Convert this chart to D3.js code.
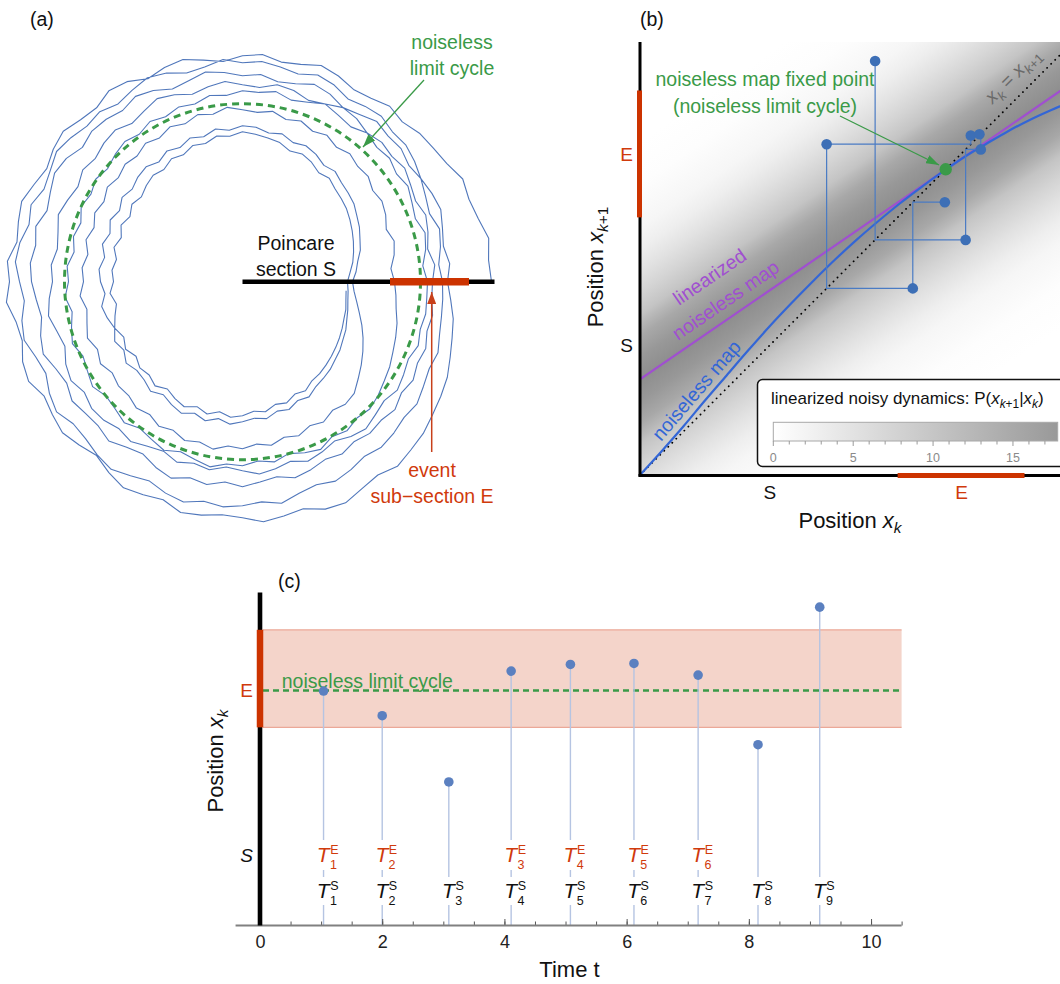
<!DOCTYPE html>
<html><head><meta charset="utf-8">
<script src="https://cdn.jsdelivr.net/npm/d3@7"></script>
<style>
body{margin:0;background:#fff;}
svg{display:block;font-family:"Liberation Sans",Arial,sans-serif;}
</style></head><body>
<svg id="fig" width="1060" height="984"></svg>
<script>
// ---------------- data ----------------
const crossingIndex = [1, 2, 3, 4, 5, 6, 7, 8, 9];
const crossingTimes = [1.04, 2.00, 3.09, 4.11, 5.08, 6.12, 7.17, 8.15, 9.16];
const crossingPositions = [0.704, 0.630, 0.431, 0.764, 0.784, 0.787, 0.752, 0.543, 0.956];
const eventRange = [0.595, 0.888];
const fixedPoint = 0.706;
const sLabelB = 0.30;
const sLabelC = 0.212;

// noiseless map
const mapX = [0, 0.05, 0.1, 0.15, 0.2, 0.25, 0.3, 0.35, 0.4, 0.45, 0.5, 0.55, 0.6, 0.65, 0.7, 0.75, 0.8, 0.85, 0.9, 0.95, 1.0];
const mapY = [0, 0.055, 0.112, 0.172, 0.230, 0.288, 0.344, 0.397, 0.448, 0.497, 0.543, 0.586, 0.627, 0.665, 0.701, 0.735, 0.765, 0.794, 0.820, 0.843, 0.864];
// linearized noiseless map
const linearMapX = [0, 1];
const linearMapY = [0.221, 0.907];
// density profile across the linearized map (vertical offset -> P)
const densityOffsets = [-0.55, -0.45, -0.35, -0.3, -0.25, -0.2, -0.15, -0.13, -0.1, -0.05, 0, 0.05, 0.1, 0.13, 0.15, 0.2, 0.25, 0.3, 0.35, 0.45, 0.55];
const densityValues  = [0, 0.35, 1.6, 3.0, 5.1, 7.5, 10.3, 12.4, 15.2, 18.0, 19.7, 18.0, 15.2, 12.4, 10.3, 7.5, 5.1, 3.0, 1.6, 0.35, 0];
const colorbarTicks = [0, 5, 10, 15];
const colorbarMax = 17.8;
const timeTicks = [0, 2, 4, 6, 8, 10];

// panel (a): noisy trajectory, radius per 5 degree step, one array per loop
const limitCycleRadius = 178;
const sectionRange = [0, 252];
const eventSubsection = [147.5, 226.5];
const loop1 = [249,247,250,244,241,243,236,233,231, 226,229,224,222,227,230,225,223,228, 226,221,225,230,228,224,231,233,227, 229,234,231,226,230,235,232,229,236, 233,237,230,228,234,236,229,232,235, 231,227,233,238,235,232,239,237,234, 236,241,238,235,242,244,239,236,241, 238,236,232,229,226,221,217,214,209];
const loop2 = [205,208,204,207,211,209,206,210,213, 212,216,214,211,217,220,215,218,221, 219,223,218,216,222,225,221,217,222, 220,224,227,222,219,225,221,226,228, 223,219,224,226,220,217,223,227,221, 222,226,229,224,220,225,228,223,226, 224,221,225,219,216,220,217,213,216, 214,211,213,209,206,208,204,202,201];
const loop3 = [200,197,201,204,199,202,206,203,207, 206,209,204,201,207,210,205,203,208, 206,210,213,208,205,211,214,209,212, 213,209,215,217,212,208,214,210,213, 211,207,204,209,212,206,203,208,205, 204,208,202,199,205,209,203,206,201, 205,201,198,203,200,196,199,195,198, 196,199,194,197,193,195,191,193,190];
const loop4 = [190,193,188,192,195,191,194,198,195, 197,194,199,201,196,193,198,200,195, 197,201,198,194,199,202,197,193,198, 196,192,195,190,193,196,191,188,192, 190,194,197,192,189,195,198,193,197, 196,192,195,190,187,192,188,191,186, 189,193,190,186,191,188,184,189,192, 188,185,189,186,183,187,184,186,185];
const loop5 = [185,181,186,189,184,187,191,188,192, 190,194,189,192,196,191,188,193,190, 191,187,189,184,186,182,185,180,183, 180,176,179,175,178,172,175,171,176, 174,178,173,177,181,176,179,183,178, 180,184,179,182,186,181,184,188,183, 184,180,183,178,182,185,179,182,178, 180,177,173,170,166,163,160,156,154];
const loop6 = [152,149,154,157,153,158,161,159,164, 163,167,164,169,166,171,168,173,170, 172,175,170,173,168,171,166,169,164, 166,162,165,160,163,158,162,157,161, 159,163,158,161,165,160,164,159,162, 161,165,162,167,164,169,166,170,165, 167,163,166,161,164,159,162,157,160, 158,151,145,139,133,127,121,116,112];
const loop7 = [110,114,117,122,125,129,132,136,138, 140,144,142,147,150,148,153,151,155, 156,152,155,150,153,148,151,146,150, 148,144,147,142,146,141,145,140,144, 142,138,143,140,136,141,137,142,138, 139,143,138,142,145,140,144,139,143, 140,137,139,134,136,131,133,128,126, 124,121,119,116,114,111,109,107,106];
const loop8 = [105,108,112,115,118,121,124,127,129, 131,135,133,138,141,139,144,146,148, 150,146,148,143,145,140,142,137,139, 136,132,135,130,134,129,133,128,131, 129,133,128,132,136,131,135,130,134, 132,136,131,135,138,133,137,132,136, 134,130,132,127,129,124,126,121,120, 118,116,114,112,110,108,107,105,104];
const trajectoryLoops = [loop1, loop2, loop3, loop4, loop5, loop6, loop7, loop8];

// ---------------- styles ----------------
const GREEN = "#3a9a48", ORANGE = "#cc3300", OTXT = "#d03a0c";
const svg = d3.select("#fig");
const defs = svg.append("defs");
function marker(id, color, w, h) {
  defs.append("marker").attr("id", id).attr("viewBox", `0 0 ${w} ${h}`)
    .attr("refX", w).attr("refY", h / 2).attr("markerWidth", w).attr("markerHeight", h)
    .attr("markerUnits", "userSpaceOnUse").attr("orient", "auto")
    .append("path").attr("d", `M0,0L${w},${h / 2}L0,${h}Z`).attr("fill", color);
}
marker("arrG", GREEN, 13, 9);
marker("arrR", "#c8401a", 12, 9);

function label(g, x, y, str, opt = {}) {
  return g.append("text").attr("x", x).attr("y", y).text(str)
    .attr("font-size", opt.size || 19.5).attr("fill", opt.fill || "#111")
    .attr("text-anchor", opt.anchor || "start")
    .attr("font-style", opt.italic ? "italic" : null);
}
// rich text: parts [{t, it, small, dy, dx, x, size}]
function rich(g, x, y, parts, size, fill, anchor, transform) {
  const t = g.append("text").attr("x", x).attr("y", y).attr("font-size", size)
    .attr("fill", fill).attr("text-anchor", anchor || "start");
  if (transform) t.attr("transform", transform);
  parts.forEach(p => {
    const s = t.append("tspan").text(p.t);
    if (p.it) s.attr("font-style", "italic");
    if (p.small) s.attr("font-size", size * 0.7);
    if (p.size) s.attr("font-size", p.size);
    if (p.dy) s.attr("dy", p.dy);
    if (p.dx) s.attr("dx", p.dx);
    if (p.x !== undefined) s.attr("x", p.x);
  });
  return t;
}

// ================= panel (a) =================
label(svg, 30, 26, "(a)");
const cxA = 242.5, cyA = 281.7;
const gA = svg.append("g").attr("transform", `translate(${cxA},${cyA})`);
const rA = d3.scaleLinear().domain([0, limitCycleRadius]).range([0, 178]);
const stepDeg = 5;
const trajPts = [];
trajectoryLoops.forEach((loop, li) => loop.forEach((r, k) => {
  const th = (li * loop.length + k) * stepDeg * Math.PI / 180;
  trajPts.push({ a: Math.PI / 2 - th, r: r });
}));
gA.append("path")
  .attr("d", d3.lineRadial().angle(d => d.a).radius(d => rA(d.r))(trajPts))
  .attr("fill", "none").attr("stroke", "#5077bb").attr("stroke-width", 1.1)
  .attr("stroke-linejoin", "round");
gA.append("circle").attr("r", rA(limitCycleRadius)).attr("fill", "none")
  .attr("stroke", GREEN).attr("stroke-width", 3).attr("stroke-dasharray", "7,5");
gA.append("line").attr("x1", rA(sectionRange[0])).attr("x2", rA(sectionRange[1]))
  .attr("y1", 0).attr("y2", 0).attr("stroke", "#000").attr("stroke-width", 4.5);
gA.append("line").attr("x1", rA(eventSubsection[0])).attr("x2", rA(eventSubsection[1]))
  .attr("y1", 0).attr("y2", 0).attr("stroke", ORANGE).attr("stroke-width", 7.5);
label(svg, 296, 250, "Poincare", { anchor: "middle" });
label(svg, 296, 276, "section S", { anchor: "middle" });
label(svg, 452, 49, "noiseless", { anchor: "middle", fill: GREEN });
label(svg, 452, 75, "limit cycle", { anchor: "middle", fill: GREEN });
svg.append("line").attr("x1", 424).attr("y1", 80).attr("x2", 363).attr("y2", 147)
  .attr("stroke", GREEN).attr("stroke-width", 1.3).attr("marker-end", "url(#arrG)");
svg.append("line").attr("x1", 431.7).attr("y1", 452).attr("x2", 431.7).attr("y2", 292)
  .attr("stroke", "#c8401a").attr("stroke-width", 1.5).attr("marker-end", "url(#arrR)");
label(svg, 432, 477, "event", { anchor: "middle", fill: OTXT });
label(svg, 432, 503, "sub\u2212section E", { anchor: "middle", fill: OTXT });

// ================= panel (b) =================
label(svg, 640, 26, "(b)");
const xB = d3.scaleLinear().domain([0, 1]).range([640, 1073]);
const yB = d3.scaleLinear().domain([0, 1]).range([475, 42]);
const gB = svg.append("g");
defs.append("clipPath").attr("id", "clipB").append("rect")
  .attr("x", 641).attr("y", 42).attr("width", 420).attr("height", 433);
const gray = d3.scaleLinear().domain([0, colorbarMax]).range(["#ffffff", "#999999"]);

// heatmap: P(x_{k+1}|x_k) band around the linearized map
const p0 = [xB(linearMapX[0]), yB(linearMapY[0])], p1 = [xB(linearMapX[1]), yB(linearMapY[1])];
const len = Math.hypot(p1[0] - p0[0], p1[1] - p0[1]);
const dir = [(p1[0] - p0[0]) / len, (p1[1] - p0[1]) / len];
const nrm = [dir[1], -dir[0]];
const lin = d3.scaleLinear().domain(linearMapX).range(linearMapY);
const anchor = [xB(fixedPoint), yB(lin(fixedPoint))];
const perp = off => (yB(0) - yB(off)) * (-nrm[1]);
const oMin = densityOffsets[0], oMax = densityOffsets[densityOffsets.length - 1];
const grad = defs.append("linearGradient").attr("id", "band").attr("gradientUnits", "userSpaceOnUse")
  .attr("x1", anchor[0] + nrm[0] * perp(oMin)).attr("y1", anchor[1] + nrm[1] * perp(oMin))
  .attr("x2", anchor[0] + nrm[0] * perp(oMax)).attr("y2", anchor[1] + nrm[1] * perp(oMax));
densityOffsets.forEach((o, i) => grad.append("stop")
  .attr("offset", (o - oMin) / (oMax - oMin)).attr("stop-color", gray(densityValues[i])));
const plotB = gB.append("g").attr("clip-path", "url(#clipB)");
plotB.append("rect").attr("x", 640).attr("y", 42).attr("width", 430).attr("height", 434)
  .attr("fill", "url(#band)");
// diagonal x_k = x_{k+1}
plotB.append("line").attr("x1", xB(0)).attr("y1", yB(0)).attr("x2", xB(1)).attr("y2", yB(1))
  .attr("stroke", "#000").attr("stroke-width", 1.8).attr("stroke-linecap", "round")
  .attr("stroke-dasharray", "0.1,5.6");
// linearized map
plotB.append("path").datum(linearMapX.map((x, i) => [x, linearMapY[i]]))
  .attr("d", d3.line().x(d => xB(d[0])).y(d => yB(d[1])))
  .attr("fill", "none").attr("stroke", "#a04fd0").attr("stroke-width", 2.2);
// noiseless map
plotB.append("path").datum(mapX.map((x, i) => [x, mapY[i]]))
  .attr("d", d3.line().x(d => xB(d[0])).y(d => yB(d[1])).curve(d3.curveCatmullRom))
  .attr("fill", "none").attr("stroke", "#3366d6").attr("stroke-width", 2.2);
// cobweb
const cob = [];
for (let k = 0; k < crossingPositions.length - 1; k++) {
  if (k > 0) cob.push([crossingPositions[k], crossingPositions[k]]);
  cob.push([crossingPositions[k], crossingPositions[k + 1]]);
}
plotB.append("path").datum(cob).attr("d", d3.line().x(d => xB(d[0])).y(d => yB(d[1])))
  .attr("fill", "none").attr("stroke", "#4a7bc4").attr("stroke-width", 1.2);
const pairs = d3.range(crossingPositions.length - 1).map(k => [crossingPositions[k], crossingPositions[k + 1]]);
plotB.selectAll("circle.pt").data(pairs).join("circle").attr("class", "pt")
  .attr("cx", d => xB(d[0])).attr("cy", d => yB(d[1])).attr("r", 5.3).attr("fill", "#3d6fb6");
plotB.append("circle").attr("cx", xB(fixedPoint)).attr("cy", yB(fixedPoint)).attr("r", 6.2).attr("fill", GREEN);

// rotated labels
const angLin = Math.atan2(p1[1] - p0[1], p1[0] - p0[0]) * 180 / Math.PI;
rich(gB, 679, 306, [{ t: "linearized" }], 19.5, "#a04fd0", "start", `rotate(${angLin},679,306)`);
rich(gB, 678, 341, [{ t: "noiseless map" }], 19.5, "#a04fd0", "start", `rotate(${angLin},678,341)`);
const angMap = Math.atan2(yB(mapY[5]) - yB(mapY[1]), xB(mapX[5]) - xB(mapX[1])) * 180 / Math.PI;
rich(gB, 661, 442, [{ t: "noiseless map" }], 19.5, "#3366d6", "start", `rotate(${angMap},661,442)`);
const dgx = xB(0.835) - 9, dgy = yB(0.835) - 9;
rich(gB, dgx, dgy, [{ t: "x", it: 1 }, { t: "k", it: 1, small: 1, dy: 5 }, { t: " = ", dy: -5 },
  { t: "x", it: 1 }, { t: "k", it: 1, small: 1, dy: 5 }, { t: "+1", small: 1 }], 19, "#6a6a6a", "start", `rotate(-45,${dgx},${dgy})`);

// annotation
label(gB, 765, 86, "noiseless map fixed point", { anchor: "middle", fill: GREEN });
label(gB, 765, 113, "(noiseless limit cycle)", { anchor: "middle", fill: GREEN });
gB.append("line").attr("x1", 840).attr("y1", 116).attr("x2", 939).attr("y2", 165)
  .attr("stroke", GREEN).attr("stroke-width", 1.3).attr("marker-end", "url(#arrG)");

// legend
const lg = gB.append("g");
lg.append("rect").attr("x", 757.5).attr("y", 379.5).attr("width", 330).attr("height", 87)
  .attr("rx", 5).attr("fill", "#fff").attr("stroke", "#111").attr("stroke-width", 1.5);
rich(lg, 771, 404, [{ t: "linearized noisy dynamics: P(" }, { t: "x", it: 1 }, { t: "k", it: 1, small: 1, dy: 4 },
  { t: "+1", small: 1 }, { t: "|", dy: -4 }, { t: "x", it: 1 }, { t: "k", it: 1, small: 1, dy: 4 }, { t: ")", dy: -4 }], 17, "#111");
const cb = d3.scaleLinear().domain([0, colorbarMax]).range([773.3, 1057.7]);
const cbg = defs.append("linearGradient").attr("id", "cbar");
cbg.append("stop").attr("offset", 0).attr("stop-color", gray(0));
cbg.append("stop").attr("offset", 1).attr("stop-color", gray(colorbarMax));
lg.append("rect").attr("x", cb(0)).attr("y", 422.3).attr("width", cb(colorbarMax) - cb(0)).attr("height", 18.7)
  .attr("fill", "url(#cbar)").attr("stroke", "#a8a8a8").attr("stroke-width", 1);
lg.selectAll("line.cbt").data(cb.ticks(18)).join("line").attr("class", "cbt")
  .attr("x1", d => cb(d)).attr("x2", d => cb(d)).attr("y1", 441)
  .attr("y2", d => colorbarTicks.includes(d) ? 446 : 444.5).attr("stroke", "#9a9a9a").attr("stroke-width", 1);
lg.selectAll("text.cbl").data(colorbarTicks).join("text").attr("class", "cbl")
  .attr("x", d => cb(d)).attr("y", 462).attr("text-anchor", "middle").attr("font-size", 12.5)
  .attr("fill", "#8a8a8a").text(d => d);

// axes of (b)
gB.append("line").attr("x1", 640).attr("x2", 640).attr("y1", yB(1)).attr("y2", yB(0) + 1.5)
  .attr("stroke", "#000").attr("stroke-width", 3);
gB.append("line").attr("x1", 638.5).attr("x2", 1060).attr("y1", yB(0) + 0.5).attr("y2", yB(0) + 0.5)
  .attr("stroke", "#000").attr("stroke-width", 3);
gB.append("line").attr("x1", 639.5).attr("x2", 639.5).attr("y1", yB(eventRange[0])).attr("y2", yB(eventRange[1]))
  .attr("stroke", ORANGE).attr("stroke-width", 5);
gB.append("line").attr("x1", xB(eventRange[0])).attr("x2", xB(eventRange[1])).attr("y1", yB(0) + 0.5).attr("y2", yB(0) + 0.5)
  .attr("stroke", ORANGE).attr("stroke-width", 5);
label(gB, 626.7, yB(eventRange[0]) - (yB(eventRange[0]) - yB(eventRange[1])) / 2 + 7, "E", { anchor: "middle", fill: OTXT, size: 19 });
label(gB, 626.7, yB(sLabelB) + 7, "S", { anchor: "middle", size: 19 });
label(gB, xB(sLabelB), 499, "S", { anchor: "middle", size: 19 });
label(gB, xB((eventRange[0] + eventRange[1]) / 2) + 0.5, 499, "E", { anchor: "middle", fill: OTXT, size: 19 });
rich(gB, 850, 528, [{ t: "Position " }, { t: "x", it: 1 }, { t: "k", it: 1, small: 1, dy: 5 }], 22, "#111", "middle");
rich(gB, 595.5 + 7.5, 267, [{ t: "Position " }, { t: "x", it: 1 }, { t: "k", it: 1, small: 1, dy: 5 }, { t: "+1", small: 1 }],
  22, "#111", "middle", `rotate(-90,${595.5 + 7.5},267)`);

// ================= panel (c) =================
label(svg, 278, 588, "(c)");
const gC = svg.append("g");
const xC = d3.scaleLinear().domain([-0.4, 10.5]).range([235.56, 901.6]);
const yC = d3.scaleLinear().domain([0, 1]).range([925.5, 592.5]);
// event band
gC.append("rect").attr("x", xC(0) + 3).attr("y", yC(eventRange[1])).attr("width", xC(10.5) - xC(0) - 3)
  .attr("height", yC(eventRange[0]) - yC(eventRange[1])).attr("fill", "#f4d4ca");
eventRange.forEach(v => gC.append("line").attr("x1", xC(0) + 3).attr("x2", xC(10.5))
  .attr("y1", yC(v)).attr("y2", yC(v)).attr("stroke", "#eba898").attr("stroke-width", 1.3));
gC.append("line").attr("x1", xC(0) + 3).attr("x2", xC(10.5)).attr("y1", yC(fixedPoint)).attr("y2", yC(fixedPoint))
  .attr("stroke", GREEN).attr("stroke-width", 2.5).attr("stroke-dasharray", "6,4");
label(gC, 281.7, yC(fixedPoint) - 2, "noiseless limit cycle", { fill: GREEN });
// stems
gC.selectAll("line.stem").data(crossingTimes).join("line").attr("class", "stem")
  .attr("x1", d => xC(d)).attr("x2", d => xC(d)).attr("y1", (d, i) => yC(crossingPositions[i])).attr("y2", yC(0))
  .attr("stroke", "#b5c4e2").attr("stroke-width", 1.4);
// labels T (sub/superscripts as separate small texts stacked right of T)
function tLabel(sx, base, sup, sub, fill) {
  gC.append("text").attr("x", sx - 6.8).attr("y", base).attr("font-size", 21).attr("font-style", "italic")
    .attr("fill", fill).text("T");
  gC.append("text").attr("x", sx + 6.6).attr("y", base - 8.2).attr("font-size", 12.5).attr("fill", fill).text(sup);
  gC.append("text").attr("x", sx + 6.4).attr("y", base + 6.8).attr("font-size", 12.5).attr("fill", fill).text(sub);
}
let eCount = 0;
crossingTimes.forEach((t, i) => {
  const sx = xC(t);
  const v = crossingPositions[i];
  gC.append("rect").attr("x", sx - 5).attr("y", 877).attr("width", 10).attr("height", 28).attr("fill", "#fff");
  tLabel(sx, 898, "S", String(crossingIndex[i]), "#111");
  if (v >= eventRange[0] && v <= eventRange[1]) {
    eCount++;
    gC.append("rect").attr("x", sx - 5).attr("y", 840).attr("width", 10).attr("height", 30).attr("fill", "#fff");
    tLabel(sx, 861.7, "E", String(eCount), OTXT);
  }
});
gC.selectAll("circle.dot").data(crossingTimes).join("circle").attr("class", "dot")
  .attr("cx", d => xC(d)).attr("cy", (d, i) => yC(crossingPositions[i])).attr("r", 4.8).attr("fill", "#5b80c0");
// x axis
const axMinor = d3.axisBottom(xC).tickValues(xC.ticks(22)).tickSize(-4).tickFormat("");
const axMajor = d3.axisBottom(xC).tickValues(timeTicks).tickSize(-6.5).tickPadding(9.7);
[axMinor, axMajor].forEach(ax => {
  const g = gC.append("g").attr("transform", `translate(0,${yC(0)})`).call(ax);
  g.select(".domain").remove();
  g.selectAll(".tick line").attr("stroke", "#555").attr("stroke-width", 1);
  g.selectAll(".tick text").attr("font-size", 18).attr("fill", "#222")
    .attr("font-family", "'Liberation Sans', Arial, sans-serif");
});
gC.append("line").attr("x1", xC(-0.4)).attr("x2", xC(10.5)).attr("y1", yC(0)).attr("y2", yC(0))
  .attr("stroke", "#808080").attr("stroke-width", 2.2);
gC.append("line").attr("x1", xC(0)).attr("x2", xC(0)).attr("y1", yC(0)).attr("y2", yC(1))
  .attr("stroke", "#000").attr("stroke-width", 4.6);
gC.append("line").attr("x1", xC(0)).attr("x2", xC(0)).attr("y1", yC(eventRange[0])).attr("y2", yC(eventRange[1]))
  .attr("stroke", ORANGE).attr("stroke-width", 6.5);
label(gC, 246.7, yC(fixedPoint) + 6.8, "E", { anchor: "middle", fill: OTXT, size: 19 });
label(gC, 246.7, yC(sLabelC) + 7, "S", { anchor: "middle", size: 19, italic: 1 });
label(gC, 569.5, 977, "Time t", { anchor: "middle", size: 22 });
rich(gC, 215 + 7.5, 761, [{ t: "Position " }, { t: "x", it: 1 }, { t: "k", it: 1, small: 1, dy: 5 }],
  22, "#111", "middle", `rotate(-90,${215 + 7.5},761)`);
</script>
</body></html>
